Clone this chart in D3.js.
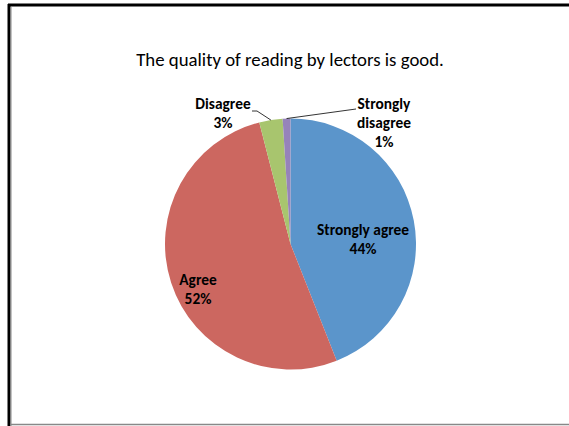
<!DOCTYPE html>
<html><head><meta charset="utf-8">
<script src="https://cdn.jsdelivr.net/npm/d3@7"></script>
<style>body{margin:0;background:#fff}svg{display:block}</style>
</head><body>
<script>
const categories = ["Strongly agree", "Agree", "Disagree", "Strongly disagree"];
const values = [44, 52, 3, 1];
const percentLabels = ["44%", "52%", "3%", "1%"];
const colors = ["#5B95CB", "#CC6760", "#A8C56E", "#9683BA"];
const title = "The quality of reading by lectors is good.";

const W = 569, H = 426;
const svg = d3.select("body").append("svg").attr("width", W).attr("height", H);
const font = "Carlito, Calibri, 'Open Sans', 'Liberation Sans', sans-serif";

// frame
svg.append("rect").attr("x",0).attr("y",0).attr("width",W).attr("height",H).attr("fill","#fff");
svg.append("line").attr("x1",9).attr("y1",4).attr("x2",9).attr("y2",H).attr("stroke","#000").attr("stroke-width",3);
svg.append("line").attr("x1",8).attr("y1",5).attr("x2",W).attr("y2",5).attr("stroke","#000").attr("stroke-width",3);
svg.append("line").attr("x1",11).attr("y1",7).attr("x2",11).attr("y2",H).attr("stroke","#888").attr("stroke-width",1);
svg.append("line").attr("x1",10).attr("y1",424.5).attr("x2",W).attr("y2",424.5).attr("stroke","#888").attr("stroke-width",1.5);

svg.append("text").attr("x",290).attr("y",66).attr("text-anchor","middle")
  .attr("font-family",font).attr("font-size",18.8).attr("fill","#000").text(title);

const cx = 290.5, cy = 244, r = 125.5;
const pie = d3.pie().sort(null).value(d => d)(values);
const arc = d3.arc().innerRadius(0).outerRadius(r);
const g = svg.append("g").attr("transform",`translate(${cx},${cy})`);
g.selectAll("path").data(pie).join("path").attr("d",arc).attr("fill",(d,i)=>colors[i]);

// labels
const lab = [
  {lines:[categories[0], percentLabels[0]], x:363, y:[235,254]},
  {lines:[categories[1], percentLabels[1]], x:198, y:[285,304]},
  {lines:[categories[2], percentLabels[2]], x:223, y:[109,128]},
  {lines:["Strongly","disagree", percentLabels[3]], x:384, y:[109,128,147]}
];
lab.forEach(l => {
  l.lines.forEach((t,j) => {
    svg.append("text").attr("x",l.x).attr("y",l.y[j]).attr("text-anchor","middle")
      .attr("font-family",font).attr("font-weight","bold").attr("font-size",15.4)
      .attr("fill","#000").text(t);
  });
});
// leader lines
const line = d3.line();
const a2 = pie[2], a3 = pie[3];
const pOn = (d,k) => { const a=(d.startAngle+d.endAngle)/2; return [cx+Math.sin(a)*r*k, cy-Math.cos(a)*r*k]; };
svg.append("path").attr("d", line([[252,111],[257,111], pOn(a2,1.0)])).attr("fill","none").attr("stroke","#000").attr("stroke-width",0.8);
svg.append("path").attr("d", line([pOn(a3,1.0),[356,109]])).attr("fill","none").attr("stroke","#000").attr("stroke-width",0.8);
</script>
</body></html>
